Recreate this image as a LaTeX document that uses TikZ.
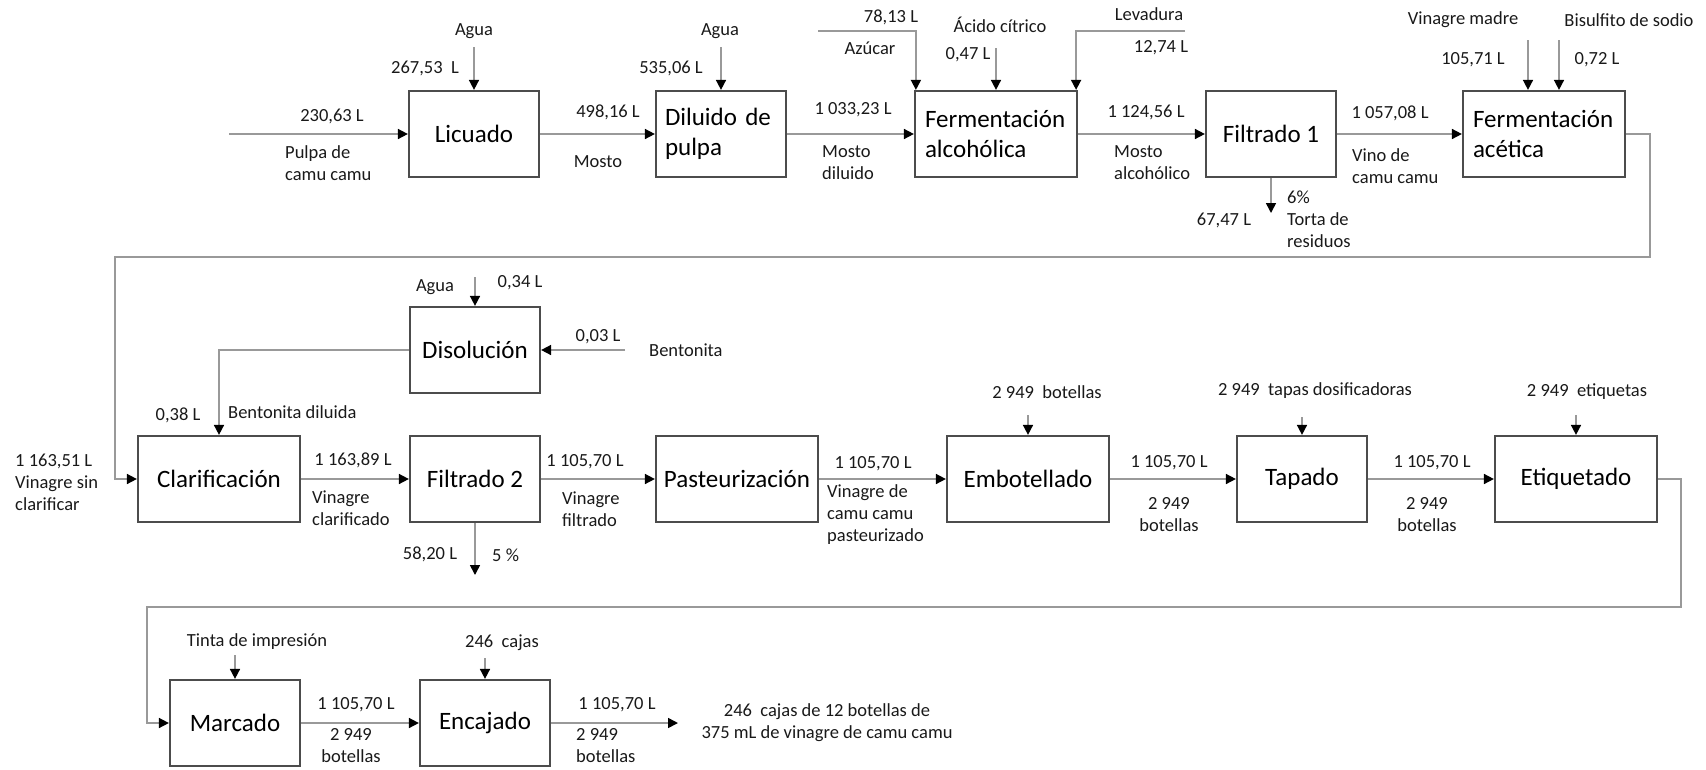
\documentclass[tikz,border=0pt]{standalone}
\usepackage{fontspec}
\setmainfont{Carlito}
\usetikzlibrary{arrows.meta}

\begin{document}
\begin{tikzpicture}[x=1pt,y=-1pt,font=\fontsize{18.5}{22}\selectfont]
    \tikzstyle{stage}=[draw=black!70,line width=2.2pt,minimum height=86pt,inner sep=0pt,font=\fontsize{25}{30}\selectfont]
    \tikzstyle{short stage}=[stage,minimum width=130pt]
    \tikzstyle{long stage}=[stage,minimum width=162pt]
    \tikzstyle{stream}=[draw=black!40,line width=1.6pt,-{Triangle[length=10pt,width=10pt,color=black]}]
    \tikzstyle{note}=[inner sep=0pt,align=left,text=black!90]

    \useasboundingbox (0,0) rectangle (1706,769);

    % Draw the first row of stages
    \foreach \name/\x/\txt in {lic/474/Licuado, fi1/1271/Filtrado 1}
        \node[short stage] (\name) at (\x,134) {\txt};
    \node[short stage,align=left,text width=112pt] (dil) at (721,134) {Diluido de\\pulpa};
    \foreach \name/\x/\txt in {fal/996/alcohólica, fac/1544/acética}
        \node[long stage,align=left,text width=142pt] (\name) at (\x,134) {Fermentación\\\txt};

    % Draw the second row of stages
    \foreach \name/\x/\txt in {cla/219/Clarificación, pas/737/Pasteurización, emb/1028/Embotellado, eti/1576/Etiquetado}
        \node[long stage] (\name) at (\x,479) {\txt};
    \foreach \name/\x/\txt in {fi2/475/Filtrado 2, tap/1302/Tapado}
        \node[short stage] (\name) at (\x,479) {\txt};
    \node[short stage] (dis) at (475,350) {Disolución};

    % Draw the third row of stages
    \foreach \name/\x/\txt in {mar/235/Marcado, enc/485/Encajado}
        \node[short stage] (\name) at (\x,723) {\txt};

    % Connect the stages of each row
    \foreach \a/\b in {lic/dil,dil/fal,fal/fi1,fi1/fac,cla/fi2,fi2/pas,pas/emb,emb/tap,tap/eti,mar/enc}
        \draw[stream] (\a) -- (\b);

    % Inputs coming from above
    \foreach \c/\x/\y/\n in {a1/474/47/lic, a2/721/47/dil, ac/996/48/fal, vm/1528/40/fac, bs/1559/40/fac,
                            a3/475/277/dis, bo/1028/415/emb, tp/1302/417/tap, et/1576/415/eti,
                            ti/235/655/mar, cj/485/658/enc} {
        \coordinate (\c) at (\x,\y);
        \draw[stream] (\c) -- (\c |- \n.north);
    }
    \coordinate (az) at (818,31);
    \coordinate (lv) at (1185,31);
    \draw[stream] (az) -| ([xshift=2pt]fal.north west);
    \draw[stream] (lv) -| ([xshift=-2pt]fal.north east);

    % Feed, residues and product
    \coordinate (in0) at (229,134);
    \draw[stream] (in0) -- (lic);
    \coordinate (res1) at (1271,213);
    \draw[stream] (fi1) -- (res1);
    \coordinate (res2) at (475,575);
    \draw[stream] (fi2) -- (res2);
    \coordinate (bt) at (625,350);
    \draw[stream] (bt) -- (dis);
    \draw[stream] (dis.west) -| (cla.north);
    \coordinate (out) at (678,723);
    \draw[stream] (enc) -- (out);

    % Lines going back to the next row
    \coordinate (r1) at (1650,257);
    \coordinate (r2) at (115,257);
    \draw[stream] (fac.east) -| (r1) -| (r2) |- (cla.west);
    \coordinate (r3) at (1681,607);
    \coordinate (r4) at (147,607);
    \draw[stream] (eti.east) -| (r3) -| (r4) |- (mar.west);

    % Annotate the first row
    \node[note] (tAgua1) at (474,31) {Agua};
    \node[note] (t26753) at (425,68) {267,53~ L};
    \node[note] (t23063) at (332,116) {230,63 L};
    \node[note,anchor=west] (tPulpa) at (285,163) {Pulpa de\\camu camu};
    \node[note] (t49816) at (608,112) {498,16 L};
    \node[note] (tMosto) at (598,162) {Mosto};
    \node[note] (tAgua2) at (720,31) {Agua};
    \node[note] (t53506) at (671,68) {535,06 L};
    \node[note] (t103323) at (853,110) {1 033,23 L};
    \node[note,anchor=west] (tMdil) at (822,163) {Mosto\\diluido};
    \node[note] (t7813) at (891,17) {78,13 L};
    \node[note] (tAzucar) at (870,48) {Azúcar};
    \node[note] (tAcido) at (1000,25) {Ácido cítrico};
    \node[note] (t047) at (968,55) {0,47 L};
    \node[note] (tLevad) at (1149,14) {Levadura};
    \node[note] (t1274) at (1161,48) {12,74 L};
    \node[note] (t112456) at (1146,112) {1 124,56 L};
    \node[note,anchor=west] (tMalc) at (1114,163) {Mosto\\alcohólico};
    \node[note] (t105708) at (1390,113) {1 057,08 L};
    \node[note,anchor=west] (tVino) at (1352,166) {Vino de\\camu camu};
    \node[note] (t6747) at (1224,220) {67,47 L};
    \node[note,anchor=west] (tTorta) at (1287,219) {6\%\\Torta de\\residuos};
    \node[note] (tVmadre) at (1463,20) {Vinagre madre};
    \node[note] (t10571) at (1473,60) {105,71 L};
    \node[note] (tBisul) at (1629,20) {Bisulfito de sodio};
    \node[note] (t072) at (1597,60) {0,72 L};

    % Annotate the second row
    \node[note,anchor=west] (t116351) at (15,482) {1 163,51 L\\Vinagre sin\\clarificar};
    \node[note] (tAgua3) at (435,287) {Agua};
    \node[note] (t034) at (520,283) {0,34 L};
    \node[note] (t003) at (598,337) {0,03 L};
    \node[note,anchor=west] (tBent) at (649,350) {Bentonita};
    \node[note] (t038) at (178,415) {0,38 L};
    \node[note,anchor=west] (tBdil) at (228,412) {Bentonita diluida};
    \node[note] (t116389) at (353,460) {1 163,89 L};
    \node[note,anchor=west] (tVclar) at (312,508) {Vinagre\\clarificado};
    \node[note] (t5820) at (430,554) {58,20 L};
    \node[note,anchor=west] (t5) at (492,555) {5 \%};
    \node[note] (t110570a) at (585,462) {1 105,70 L};
    \node[note,anchor=west] (tVfil) at (562,509) {Vinagre\\filtrado};
    \node[note] (t110570b) at (873,464) {1 105,70 L};
    \node[note,anchor=west] (tVpas) at (827,515) {Vinagre de\\camu camu\\pasteurizado};
    \node[note] (tBot) at (1047,392) {2 949~ botellas};
    \node[note] (t110570c) at (1169,463) {1 105,70 L};
    \node[note,align=center] (tB1) at (1169,515) {2 949\\botellas};
    \node[note] (tTapas) at (1315,391) {2 949~ tapas dosificadoras};
    \node[note] (t110570d) at (1432,463) {1 105,70 L};
    \node[note,align=center] (tB2) at (1427,515) {2 949\\botellas};
    \node[note] (tEtiq) at (1587,392) {2 949~ etiquetas};

    % Annotate the third row
    \node[note] (tTinta) at (257,642) {Tinta de impresión};
    \node[note] (t110570e) at (356,705) {1 105,70 L};
    \node[note,align=center] (tB3) at (351,746) {2 949\\botellas};
    \node[note] (tCajas) at (502,643) {246~ cajas};
    \node[note] (t110570f) at (617,705) {1 105,70 L};
    \node[note,anchor=west] (tB4) at (576,746) {2 949\\botellas};
    \node[note,align=center] (tFinal) at (827,723) {246~ cajas de 12 botellas de\\375 mL de vinagre de camu camu};
\end{tikzpicture}
\end{document}
